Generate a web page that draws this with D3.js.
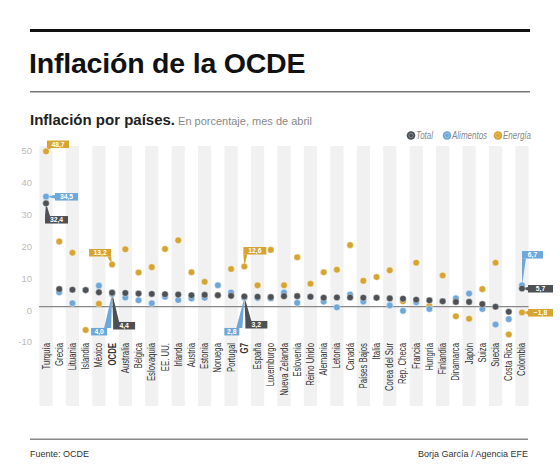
<!DOCTYPE html>
<html><head><meta charset="utf-8">
<script src="https://cdn.jsdelivr.net/npm/d3@7"></script>
<style>
html,body{margin:0;padding:0;background:#fff;}
svg{display:block;}
</style></head>
<body>
<svg id="c" width="560" height="472"></svg>
<script>
const countries = ["Turquía","Grecia","Lituania","Islandia","México","OCDE","Australia","Bélgica","Eslovaquia","EE. UU.","Irlanda","Austria","Estonia","Noruega","Portugal","G7","España","Luxemburgo","Nueva Zelanda","Eslovenia","Reino Unido","Alemania","Letonia","Canadá","Países Bajos","Italia","Corea del Sur","Rep. Checa","Francia","Hungría","Finlandia","Dinamarca","Japón","Suiza","Suecia","Costa Rica","Colombia"];
const total     = [32.4, 5.5, 5.3, 5.2, 4.5, 4.4, 4.3, 4.1, 4.0, 3.9, 3.8, 3.6, 3.7, 3.6, 3.4, 3.2, 3.1, 3.0, 3.3, 3.3, 3.1, 2.8, 2.9, 2.9, 2.8, 2.8, 2.6, 2.5, 2.2, 2.0, 1.7, 1.5, 1.5, 0.8, 0.0, -1.6, 5.7];
const alimentos = [34.5, 4.5, 1.1, 5.2, 6.6, 4.0, 2.9, 2.0, 1.1, 3.1, 2.1, 2.6, 2.8, 6.7, 4.4, 2.8, 2.7, 2.6, 4.4, 1.2, 3.1, 1.6, -0.2, 3.8, 1.6, 2.8, 0.4, -1.3, 1.4, -0.7, 1.7, 2.6, 4.1, -0.7, -5.6, -3.9, 6.7];
const energia   = [48.7, 20.4, 16.9, -7.3, 0.9, 13.2, 18.0, 10.7, 12.4, 18.1, 20.8, 10.8, 7.8, 3.6, 11.8, 12.6, 6.7, 17.8, 6.7, 15.5, 7.2, 10.8, 11.6, 19.3, 8.1, 9.3, 11.4, 1.7, 13.8, 0.2, 9.8, -3.0, -3.8, 5.5, 13.8, -8.7, -1.8];
const yTicks = [50, 40, 30, 20, 10, 0, -10];
const seriesNames = ["Total", "Alimentos", "Energía"];
const boldCats = ["OCDE", "G7"];
const callouts = [
  ["Turquía", "Energía"], ["Turquía", "Alimentos"], ["Turquía", "Total"],
  ["OCDE", "Energía"], ["OCDE", "Alimentos"], ["OCDE", "Total"],
  ["G7", "Energía"], ["G7", "Alimentos"], ["G7", "Total"],
  ["Colombia", "Alimentos"], ["Colombia", "Total"], ["Colombia", "Energía"]
];

// layout (positions of callout boxes relative to their dot)
const calloutLayout = [
  {dx:1, dy:-10.8, w:22, t:[[0,7.5],[4,7.5]]},
  {dx:9, dy:-3.6, w:23, t:[[0,2],[0,5.5]]},
  {dx:-1, dy:12.7, w:23, t:[[0,0],[5,0]]},
  {dx:-23, dy:-15.6, w:22, t:[[18,7.5],[22,7.5]]},
  {dx:-21, dy:34, w:16, t:[[13,0],[20,0]]},
  {dx:1, dy:29.3, w:22, t:[[0,0],[6,0]]},
  {dx:-1, dy:-19.5, w:23, t:[[0,7.5],[4,7.5]]},
  {dx:-20, dy:30.2, w:15, t:[[12,0],[18,0]]},
  {dx:1, dy:24.5, w:22, t:[[0,0],[6,0]]},
  {dx:0, dy:-34.3, w:21, t:[[0,7.5],[4,7.5]]},
  {dx:6, dy:-3.5, w:25, t:[[0,2],[0,5.5]]},
  {dx:6, dy:-3.4, w:25, t:[[0,2],[0,5.5]]}
];

const colors = {"Total":"#4d5155", "Alimentos":"#6ea7da", "Energía":"#d6a430"};
const valuesBy = {"Total":total, "Alimentos":alimentos, "Energía":energia};

const svg = d3.select("#c");
svg.append("rect").attr("width",560).attr("height",472).attr("fill","#fff");

const SANS = "'Liberation Sans', Arial, Helvetica, sans-serif";

// header
svg.append("rect").attr("x",30).attr("y",29).attr("width",500).attr("height",3).attr("fill","#111");
svg.append("text").attr("x",29).attr("y",73).attr("font-family",SANS).attr("font-weight","bold")
  .attr("font-size",28.5).attr("letter-spacing",-0.2).attr("fill","#111").text("Inflación de la OCDE");
svg.append("rect").attr("x",30).attr("y",91).attr("width",500).attr("height",1.5).attr("fill","#777");
const sub = svg.append("text").attr("x",30).attr("y",125).attr("font-family",SANS).attr("fill","#222");
sub.append("tspan").attr("font-weight","bold").attr("font-size",15).text("Inflación por países.");
sub.append("tspan").attr("font-size",11).attr("fill","#888").attr("dx",3).text("En porcentaje, mes de abril");

// scales
const x = d3.scaleBand().domain(countries).range([39.4, 528.6]).padding(0);
const y = d3.scaleLinear().domain([-10, 50]).range([338.6, 147.2]);

// stripes
svg.append("g").selectAll("rect").data(countries.filter((c,i)=>i%2===0)).join("rect")
  .attr("x", d=>x(d)).attr("width", x.bandwidth())
  .attr("y", 146).attr("height", 260).attr("fill","#f1f1f1");

// y labels
svg.append("g").selectAll("text").data(yTicks).join("text")
  .attr("x",32).attr("y", d=>y(d)+3.5).attr("dy","0.35em").attr("text-anchor","end")
  .attr("font-family",SANS).attr("font-size",9.5).attr("fill","#bbb").text(d=>d);

// zero line
svg.append("line").attr("x1",39).attr("x2",528.6).attr("y1",y(0)).attr("y2",y(0))
  .attr("stroke","#888").attr("stroke-width",1.3);

// category labels (condensed)
svg.append("g").selectAll("text").data(countries).join("text")
  .attr("transform", d=>`translate(${x(d)+x.bandwidth()/2+3.5},343) rotate(-90) scale(0.78,1)`)
  .attr("text-anchor","end").attr("font-family",SANS).attr("font-size",10)
  .attr("font-weight", d=>boldCats.includes(d)?"bold":"normal")
  .attr("fill","#333").text(d=>d);

const cx = c => x(c) + x.bandwidth()/2;
const fmt = v => d3.format(".1f")(v).replace(".", ",");

// callouts
const cg = svg.append("g");
callouts.forEach(([c, s], i) => {
  const L = calloutLayout[i];
  const v = valuesBy[s][countries.indexOf(c)];
  const px = cx(c), py = y(v);
  const bx = px + L.dx, by = py + L.dy, h = 7.5;
  const tail = [[px,py],[bx+L.t[0][0], by+L.t[0][1]],[bx+L.t[1][0], by+L.t[1][1]]];
  cg.append("path").attr("d", d3.line()(tail)+"Z").attr("fill", colors[s]);
  cg.append("rect").attr("x",bx).attr("y",by).attr("width",L.w).attr("height",h).attr("fill",colors[s]);
  cg.append("text").attr("x",bx+L.w/2).attr("y",by+h/2).attr("dy","0.36em").attr("text-anchor","middle")
    .attr("font-family",SANS).attr("font-weight","bold").attr("font-size",6.8).attr("fill","#fff").text(fmt(v));
});

// dots
["Energía","Alimentos","Total"].forEach(s => {
  svg.append("g").selectAll("circle").data(countries).join("circle")
    .attr("cx", d=>cx(d)).attr("cy", (d,i)=>y(valuesBy[s][i])).attr("r",3.3)
    .attr("fill", colors[s]).attr("stroke","#fff").attr("stroke-width",0.6).attr("stroke-opacity",0.7);
});

// legend
const legX = [411, 447, 498];
const lg = svg.append("g");
seriesNames.forEach((s, i) => {
  lg.append("circle").attr("cx",legX[i]).attr("cy",135.5).attr("r",4.3).attr("fill",colors[s]);
  lg.append("circle").attr("cx",legX[i]).attr("cy",135.5).attr("r",2.2).attr("fill","none")
    .attr("stroke","#fff").attr("stroke-opacity",0.35).attr("stroke-width",0.8);
  lg.append("text").attr("transform",`translate(${legX[i]+5},135.5) scale(0.8,1)`).attr("dy","0.35em")
    .attr("font-family",SANS).attr("font-style","italic").attr("font-size",10)
    .attr("fill","#888").text(s);
});

// footer
svg.append("rect").attr("x",30).attr("y",438.5).attr("width",498).attr("height",1.5).attr("fill","#888");
svg.append("text").attr("x",30).attr("y",457).attr("font-family",SANS).attr("font-size",9).attr("fill","#333").text("Fuente: OCDE");
svg.append("text").attr("x",528).attr("y",457).attr("text-anchor","end").attr("font-family",SANS).attr("font-size",9).attr("fill","#333").text("Borja García / Agencia EFE");
</script>
</body></html>
